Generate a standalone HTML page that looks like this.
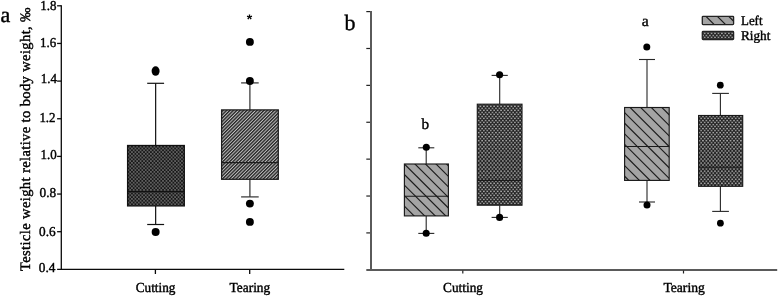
<!DOCTYPE html><html><head><meta charset="utf-8"><title>Testicle weight</title>
<style>html,body{margin:0;padding:0;background:#fff}body{width:778px;height:296px;overflow:hidden}svg{display:block}text{font-family:"Liberation Serif","Times New Roman",serif;fill:#000;text-rendering:geometricPrecision;stroke:#000;stroke-width:0.4px}</style></head><body>
<svg width="778" height="296" viewBox="0 0 778 296">
<defs>
<pattern id="pd" width="2.4" height="2.4" patternUnits="userSpaceOnUse" patternTransform="rotate(45)"><rect width="2.4" height="2.4" fill="#c0c0c0"/><rect width="1.35" height="2.4" fill="#222"/></pattern>
<pattern id="pc" width="3.45" height="3.6" patternUnits="userSpaceOnUse"><rect width="3.45" height="3.6" fill="#181818"/><rect x="0.31" y="0.35" width="1.1" height="1.1" fill="#eee" transform="rotate(45 0.86 0.9)"/><rect x="2.04" y="2.15" width="1.1" height="1.1" fill="#eee" transform="rotate(45 2.59 2.7)"/></pattern>
<pattern id="pe" width="3.45" height="4.05" patternUnits="userSpaceOnUse"><rect width="3.45" height="4.05" fill="#202020"/><rect x="0.16" y="0.31" width="1.4" height="1.4" fill="#bcbcbc" transform="rotate(45 0.86 1.01)"/><rect x="1.89" y="2.33" width="1.4" height="1.4" fill="#bcbcbc" transform="rotate(45 2.59 3.03)"/></pattern>
</defs>
<rect width="778" height="296" fill="#fff"/>
<line x1="61.30" y1="5.15" x2="61.30" y2="270.00" stroke="#0a0a0a" stroke-width="1.3"/>
<line x1="57.10" y1="269.35" x2="344.30" y2="269.35" stroke="#0a0a0a" stroke-width="1.3"/>
<text x="55.4" y="271.6" font-size="13.6" text-anchor="end" textLength="16.6" lengthAdjust="spacingAndGlyphs">0.4</text>
<line x1="57.10" y1="231.70" x2="61.30" y2="231.70" stroke="#0a0a0a" stroke-width="1.3"/>
<text x="55.6" y="235.6" font-size="13.6" text-anchor="end" textLength="16.6" lengthAdjust="spacingAndGlyphs">0.6</text>
<line x1="57.10" y1="194.05" x2="61.30" y2="194.05" stroke="#0a0a0a" stroke-width="1.3"/>
<text x="56.2" y="196.8" font-size="13.6" text-anchor="end" textLength="16.6" lengthAdjust="spacingAndGlyphs">0.8</text>
<line x1="57.10" y1="156.40" x2="61.30" y2="156.40" stroke="#0a0a0a" stroke-width="1.3"/>
<text x="56.7" y="158.8" font-size="13.6" text-anchor="end" textLength="16.2" lengthAdjust="spacingAndGlyphs">1.0</text>
<line x1="57.10" y1="118.75" x2="61.30" y2="118.75" stroke="#0a0a0a" stroke-width="1.3"/>
<text x="55.6" y="122.4" font-size="13.6" text-anchor="end" textLength="16.2" lengthAdjust="spacingAndGlyphs">1.2</text>
<line x1="57.10" y1="81.10" x2="61.30" y2="81.10" stroke="#0a0a0a" stroke-width="1.3"/>
<text x="56.9" y="83.0" font-size="13.6" text-anchor="end" textLength="16.2" lengthAdjust="spacingAndGlyphs">1.4</text>
<line x1="57.10" y1="43.45" x2="61.30" y2="43.45" stroke="#0a0a0a" stroke-width="1.3"/>
<text x="56.3" y="46.8" font-size="13.6" text-anchor="end" textLength="16.2" lengthAdjust="spacingAndGlyphs">1.6</text>
<line x1="57.10" y1="5.80" x2="61.30" y2="5.80" stroke="#0a0a0a" stroke-width="1.3"/>
<text x="56.5" y="9.7" font-size="13.6" text-anchor="end" textLength="16.2" lengthAdjust="spacingAndGlyphs">1.8</text>
<line x1="155.40" y1="269.35" x2="155.40" y2="274.00" stroke="#0a0a0a" stroke-width="1.3"/>
<line x1="249.70" y1="269.35" x2="249.70" y2="274.00" stroke="#0a0a0a" stroke-width="1.3"/>
<text x="155.6" y="292.3" font-size="13.8" text-anchor="middle" textLength="39.7" lengthAdjust="spacingAndGlyphs">Cutting</text>
<text x="249.9" y="292.3" font-size="13.8" text-anchor="middle" textLength="40.7" lengthAdjust="spacingAndGlyphs">Tearing</text>
<text x="0.6" y="21.7" font-size="22">a</text>
<text transform="translate(30.4 271) rotate(-90)" font-size="14.5" textLength="263.6" lengthAdjust="spacing">Testicle weight relative to body weight, ‰</text>
<text x="249.6" y="23.6" font-size="14" text-anchor="middle" style="font-family:'Liberation Sans',Arial,sans-serif;font-weight:bold;stroke:none">*</text>
<line x1="155.65" y1="83.30" x2="155.65" y2="145.50" stroke="#111" stroke-width="1.2"/>
<line x1="155.65" y1="205.90" x2="155.65" y2="224.50" stroke="#111" stroke-width="1.2"/>
<line x1="147.20" y1="83.30" x2="164.10" y2="83.30" stroke="#111" stroke-width="1.2"/>
<line x1="147.20" y1="224.50" x2="164.10" y2="224.50" stroke="#111" stroke-width="1.2"/>
<rect x="127.60" y="145.50" width="56.70" height="60.40" fill="url(#pc)" stroke="none"/>
<rect x="127.60" y="145.50" width="56.70" height="60.40" fill="none" stroke="#111" stroke-width="1.3"/>
<line x1="127.60" y1="191.70" x2="184.30" y2="191.70" stroke="#111" stroke-width="1.3"/>
<ellipse cx="155.60" cy="71.10" rx="4.0" ry="4.75" fill="#000"/>
<circle cx="155.65" cy="232.05" r="4.0" fill="#000"/>
<line x1="249.90" y1="82.90" x2="249.90" y2="109.90" stroke="#383838" stroke-width="1.25"/>
<line x1="249.90" y1="179.30" x2="249.90" y2="196.90" stroke="#383838" stroke-width="1.25"/>
<line x1="241.10" y1="82.90" x2="258.70" y2="82.90" stroke="#383838" stroke-width="1.25"/>
<line x1="241.10" y1="196.90" x2="258.70" y2="196.90" stroke="#383838" stroke-width="1.25"/>
<rect x="221.60" y="109.90" width="56.70" height="69.40" fill="url(#pd)" stroke="none"/>
<rect x="221.60" y="109.90" width="56.70" height="69.40" fill="none" stroke="#1c1c1c" stroke-width="1.25"/>
<line x1="221.60" y1="162.50" x2="278.30" y2="162.50" stroke="#1c1c1c" stroke-width="1.25"/>
<circle cx="249.90" cy="41.90" r="3.95" fill="#000"/>
<circle cx="249.90" cy="81.00" r="3.95" fill="#000"/>
<circle cx="249.90" cy="203.60" r="3.95" fill="#000"/>
<circle cx="249.90" cy="221.90" r="3.95" fill="#000"/>
<line x1="371.00" y1="11.10" x2="371.00" y2="271.00" stroke="#5a5a5a" stroke-width="2"/>
<line x1="366.30" y1="270.00" x2="777.20" y2="270.00" stroke="#5a5a5a" stroke-width="2"/>
<line x1="366.30" y1="232.91" x2="370.00" y2="232.91" stroke="#222" stroke-width="1.2"/>
<line x1="366.30" y1="196.03" x2="370.00" y2="196.03" stroke="#222" stroke-width="1.2"/>
<line x1="366.30" y1="159.14" x2="370.00" y2="159.14" stroke="#222" stroke-width="1.2"/>
<line x1="366.30" y1="122.26" x2="370.00" y2="122.26" stroke="#222" stroke-width="1.2"/>
<line x1="366.30" y1="85.37" x2="370.00" y2="85.37" stroke="#222" stroke-width="1.2"/>
<line x1="366.30" y1="48.49" x2="370.00" y2="48.49" stroke="#222" stroke-width="1.2"/>
<line x1="366.30" y1="11.60" x2="370.00" y2="11.60" stroke="#222" stroke-width="1.2"/>
<line x1="462.80" y1="270.50" x2="462.80" y2="273.50" stroke="#222" stroke-width="1.2"/>
<line x1="683.50" y1="270.50" x2="683.50" y2="273.50" stroke="#222" stroke-width="1.2"/>
<text x="463.0" y="291.8" font-size="13.8" text-anchor="middle" textLength="39.9" lengthAdjust="spacingAndGlyphs">Cutting</text>
<text x="684.1" y="292.3" font-size="13.7" text-anchor="middle" textLength="41.4" lengthAdjust="spacingAndGlyphs">Tearing</text>
<text x="344.6" y="30.2" font-size="22">b</text>
<text x="425.2" y="129" font-size="15.2" text-anchor="middle">b</text>
<text x="645.3" y="25.9" font-size="15.7" text-anchor="middle">a</text>
<line x1="426.20" y1="147.80" x2="426.20" y2="164.00" stroke="#262626" stroke-width="1.1"/>
<line x1="426.20" y1="215.90" x2="426.20" y2="233.40" stroke="#262626" stroke-width="1.1"/>
<line x1="418.30" y1="147.80" x2="434.30" y2="147.80" stroke="#262626" stroke-width="1.1"/>
<line x1="418.30" y1="233.40" x2="434.30" y2="233.40" stroke="#262626" stroke-width="1.1"/>
<rect x="404.40" y="164.00" width="44.00" height="51.90" fill="none" stroke="none"/>
<clipPath id="c1"><rect x="404.40" y="164.00" width="44.00" height="51.90"/></clipPath>
<rect x="404.40" y="164.00" width="44.00" height="51.90" fill="#a4a4a4"/>
<g clip-path="url(#c1)" stroke="#1a1a1a" stroke-width="1.15">
<line x1="349.65" y1="162.00" x2="405.55" y2="217.90"/>
<line x1="360.20" y1="162.00" x2="416.10" y2="217.90"/>
<line x1="370.75" y1="162.00" x2="426.65" y2="217.90"/>
<line x1="381.30" y1="162.00" x2="437.20" y2="217.90"/>
<line x1="391.85" y1="162.00" x2="447.75" y2="217.90"/>
<line x1="402.40" y1="162.00" x2="458.30" y2="217.90"/>
<line x1="412.95" y1="162.00" x2="468.85" y2="217.90"/>
<line x1="423.50" y1="162.00" x2="479.40" y2="217.90"/>
<line x1="434.05" y1="162.00" x2="489.95" y2="217.90"/>
<line x1="444.60" y1="162.00" x2="500.50" y2="217.90"/>
<line x1="455.15" y1="162.00" x2="511.05" y2="217.90"/>
</g>
<rect x="404.40" y="164.00" width="44.00" height="51.90" fill="none" stroke="#1a1a1a" stroke-width="1.15"/>
<line x1="404.40" y1="196.20" x2="448.40" y2="196.20" stroke="#1a1a1a" stroke-width="1.15"/>
<circle cx="426.30" cy="147.20" r="3.55" fill="#000"/>
<circle cx="426.20" cy="233.30" r="3.55" fill="#000"/>
<line x1="499.70" y1="75.40" x2="499.70" y2="104.20" stroke="#262626" stroke-width="1.1"/>
<line x1="499.70" y1="205.20" x2="499.70" y2="217.40" stroke="#262626" stroke-width="1.1"/>
<line x1="491.60" y1="75.40" x2="507.80" y2="75.40" stroke="#262626" stroke-width="1.1"/>
<line x1="491.60" y1="217.40" x2="507.80" y2="217.40" stroke="#262626" stroke-width="1.1"/>
<rect x="477.30" y="104.20" width="44.70" height="101.00" fill="url(#pe)" stroke="none"/>
<rect x="477.30" y="104.20" width="44.70" height="101.00" fill="none" stroke="#1a1a1a" stroke-width="1.15"/>
<line x1="477.30" y1="180.30" x2="522.00" y2="180.30" stroke="#1a1a1a" stroke-width="1.15"/>
<circle cx="499.60" cy="74.70" r="3.55" fill="#000"/>
<circle cx="499.60" cy="217.40" r="3.55" fill="#000"/>
<line x1="647.00" y1="59.50" x2="647.00" y2="107.50" stroke="#262626" stroke-width="1.1"/>
<line x1="647.00" y1="180.40" x2="647.00" y2="202.00" stroke="#262626" stroke-width="1.1"/>
<line x1="639.00" y1="59.50" x2="655.00" y2="59.50" stroke="#262626" stroke-width="1.1"/>
<line x1="639.00" y1="202.00" x2="655.00" y2="202.00" stroke="#262626" stroke-width="1.1"/>
<rect x="624.60" y="107.50" width="44.60" height="72.90" fill="none" stroke="none"/>
<clipPath id="c2"><rect x="624.60" y="107.50" width="44.60" height="72.90"/></clipPath>
<rect x="624.60" y="107.50" width="44.60" height="72.90" fill="#a4a4a4"/>
<g clip-path="url(#c2)" stroke="#1a1a1a" stroke-width="1.15">
<line x1="543.30" y1="105.50" x2="620.20" y2="182.40"/>
<line x1="553.90" y1="105.50" x2="630.80" y2="182.40"/>
<line x1="564.50" y1="105.50" x2="641.40" y2="182.40"/>
<line x1="575.10" y1="105.50" x2="652.00" y2="182.40"/>
<line x1="585.70" y1="105.50" x2="662.60" y2="182.40"/>
<line x1="596.30" y1="105.50" x2="673.20" y2="182.40"/>
<line x1="606.90" y1="105.50" x2="683.80" y2="182.40"/>
<line x1="617.50" y1="105.50" x2="694.40" y2="182.40"/>
<line x1="628.10" y1="105.50" x2="705.00" y2="182.40"/>
<line x1="638.70" y1="105.50" x2="715.60" y2="182.40"/>
<line x1="649.30" y1="105.50" x2="726.20" y2="182.40"/>
<line x1="659.90" y1="105.50" x2="736.80" y2="182.40"/>
<line x1="670.50" y1="105.50" x2="747.40" y2="182.40"/>
</g>
<rect x="624.60" y="107.50" width="44.60" height="72.90" fill="none" stroke="#1a1a1a" stroke-width="1.15"/>
<line x1="624.60" y1="146.50" x2="669.20" y2="146.50" stroke="#1a1a1a" stroke-width="1.15"/>
<circle cx="646.80" cy="47.00" r="3.5" fill="#000"/>
<circle cx="647.00" cy="205.00" r="3.5" fill="#000"/>
<line x1="720.40" y1="93.40" x2="720.40" y2="115.50" stroke="#262626" stroke-width="1.1"/>
<line x1="720.40" y1="186.30" x2="720.40" y2="211.40" stroke="#262626" stroke-width="1.1"/>
<line x1="712.20" y1="93.40" x2="728.90" y2="93.40" stroke="#262626" stroke-width="1.1"/>
<line x1="712.20" y1="211.40" x2="728.90" y2="211.40" stroke="#262626" stroke-width="1.1"/>
<rect x="698.60" y="115.50" width="44.10" height="70.80" fill="url(#pe)" stroke="none"/>
<rect x="698.60" y="115.50" width="44.10" height="70.80" fill="none" stroke="#1a1a1a" stroke-width="1.15"/>
<line x1="698.60" y1="167.20" x2="742.70" y2="167.20" stroke="#1a1a1a" stroke-width="1.15"/>
<circle cx="720.30" cy="85.20" r="3.4" fill="#000"/>
<circle cx="720.40" cy="223.20" r="3.4" fill="#000"/>
<clipPath id="c3"><rect x="702.30" y="16.30" width="31.30" height="8.30"/></clipPath>
<rect x="702.30" y="16.30" width="31.30" height="8.30" fill="#a4a4a4"/>
<g clip-path="url(#c3)" stroke="#1a1a1a" stroke-width="1.15">
<line x1="681.10" y1="14.30" x2="693.40" y2="26.60"/>
<line x1="692.50" y1="14.30" x2="704.80" y2="26.60"/>
<line x1="703.90" y1="14.30" x2="716.20" y2="26.60"/>
<line x1="715.30" y1="14.30" x2="727.60" y2="26.60"/>
<line x1="726.70" y1="14.30" x2="739.00" y2="26.60"/>
<line x1="738.10" y1="14.30" x2="750.40" y2="26.60"/>
</g>
<rect x="702.3" y="16.3" width="31.3" height="8.3" fill="none" stroke="#222" stroke-width="1.3" rx="0.8"/>
<rect x="702.3" y="31.4" width="31.3" height="8.2" fill="url(#pe)" stroke="#222" stroke-width="1.3" rx="0.8"/>
<text x="741.0" y="24.5" font-size="13.5" textLength="21.5" lengthAdjust="spacingAndGlyphs">Left</text>
<text x="741.0" y="39.6" font-size="13.5" textLength="29.4" lengthAdjust="spacingAndGlyphs">Right</text>
</svg></body></html>
